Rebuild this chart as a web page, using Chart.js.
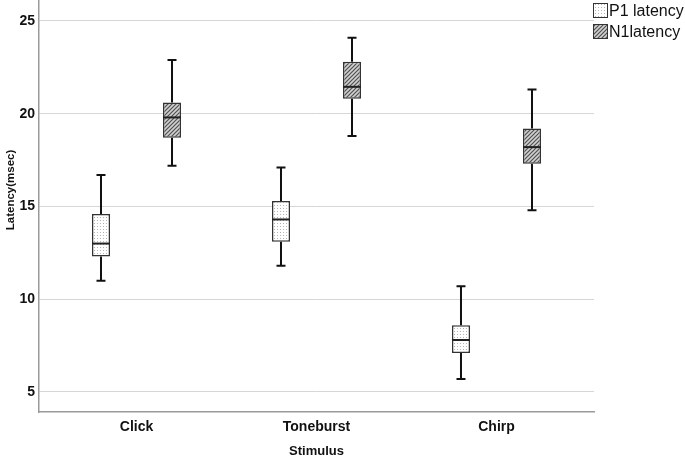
<!DOCTYPE html>
<html>
<head>
<meta charset="utf-8">
<script src="https://cdn.jsdelivr.net/npm/chart.js@4"></script>
<style>
  html, body { margin: 0; padding: 0; background: #fff; }
  #wrap { width: 685px; height: 459px; position: relative; }
</style>
</head>
<body>
<div id="wrap"><canvas id="boxChart"></canvas></div>
<script>
// stimulus categories
const stimuli = ['Click', 'Toneburst', 'Chirp'];
const seriesNames = ['P1 latency', 'N1latency'];

// box plot statistics (msec)
const p1Min    = [11.0, 11.8, 5.7];
const p1Q1     = [12.3, 13.1, 7.1];
const p1Median = [13.0, 14.3, 7.8];
const p1Q3     = [14.6, 15.3, 8.6];
const p1Max    = [16.7, 17.1, 10.7];

const n1Min    = [17.2, 18.8, 14.8];
const n1Q1     = [18.7, 20.8, 17.3];
const n1Median = [19.8, 21.45, 18.2];
const n1Q3     = [20.6, 22.8, 19.2];
const n1Max    = [22.9, 24.1, 21.3];

const yTicks = [5, 10, 15, 20, 25];
const yTitle = 'Latency(msec)';

function dotPattern() {
    const c = document.createElement('canvas');
    c.width = 3; c.height = 3;
    const g = c.getContext('2d');
    g.fillStyle = '#ffffff'; g.fillRect(0, 0, 3, 3);
    g.fillStyle = '#b4b4b4'; g.fillRect(1, 1, 1, 1);
    return g.createPattern(c, 'repeat');
}

function hatchPattern() {
    const c = document.createElement('canvas');
    c.width = 4; c.height = 4;
    const g = c.getContext('2d');
    g.fillStyle = '#d0d0d0'; g.fillRect(0, 0, 4, 4);
    g.strokeStyle = '#505050'; g.lineWidth = 1.2;
    g.beginPath();
    g.moveTo(0, 4); g.lineTo(4, 0);
    g.moveTo(-1, 1); g.lineTo(1, -1);
    g.moveTo(3, 5); g.lineTo(5, 3);
    g.stroke();
    return g.createPattern(c, 'repeat');
}

const boxStats = [
    { min: p1Min, med: p1Median, max: p1Max },
    { min: n1Min, med: n1Median, max: n1Max }
];

// whiskers, caps and median lines drawn from the scales
const whiskerPlugin = {
    id: 'whiskers',
    afterDatasetsDraw(chart) {
        const ctx = chart.ctx;
        const y = chart.scales.y;
        chart.data.datasets.forEach((ds, di) => {
            const meta = chart.getDatasetMeta(di);
            const st = boxStats[di];
            meta.data.forEach((bar, i) => {
                const x = bar.x, w = bar.width;
                const [lo, hi] = ds.data[i].y;
                ctx.save();
                ctx.strokeStyle = '#111';
                ctx.lineWidth = 2;
                ctx.beginPath();
                ctx.moveTo(x, y.getPixelForValue(hi)); ctx.lineTo(x, y.getPixelForValue(st.max[i]));
                ctx.moveTo(x, y.getPixelForValue(lo)); ctx.lineTo(x, y.getPixelForValue(st.min[i]));
                const cap = 4.5;
                ctx.moveTo(x - cap, y.getPixelForValue(st.max[i])); ctx.lineTo(x + cap, y.getPixelForValue(st.max[i]));
                ctx.moveTo(x - cap, y.getPixelForValue(st.min[i])); ctx.lineTo(x + cap, y.getPixelForValue(st.min[i]));
                ctx.stroke();
                ctx.strokeStyle = '#222';
                ctx.beginPath();
                ctx.moveTo(x - w / 2, y.getPixelForValue(st.med[i])); ctx.lineTo(x + w / 2, y.getPixelForValue(st.med[i]));
                ctx.stroke();
                ctx.restore();
            });
        });
    }
};

// legend in the top-right margin and the y title
const cornerLegend = {
    id: 'cornerLegend',
    afterDraw(chart) {
        const ctx = chart.ctx;
        ctx.save();
        chart.data.datasets.forEach((ds, di) => {
            const top = 3 + di * 21;
            ctx.fillStyle = ds.backgroundColor;
            ctx.fillRect(593, top, 15, 15);
            ctx.strokeStyle = '#333'; ctx.lineWidth = 1;
            ctx.strokeRect(593.5, top + 0.5, 14, 14);
            ctx.fillStyle = '#111';
            ctx.font = '16px "Liberation Sans", Arial, sans-serif';
            ctx.textBaseline = 'middle';
            ctx.fillText(ds.label, 609, top + 9);
        });
        ctx.translate(11, 190);
        ctx.rotate(-Math.PI / 2);
        ctx.font = 'bold 11.5px "Liberation Sans", Arial, sans-serif';
        ctx.textAlign = 'center';
        ctx.textBaseline = 'middle';
        ctx.fillStyle = '#111';
        ctx.fillText(yTitle, 0, 0);
        ctx.restore();
    }
};

new Chart(document.getElementById('boxChart'), {
    type: 'bar',
    data: {
        datasets: [
            {
                label: seriesNames[0],
                data: p1Q1.map((q, i) => ({ x: i, y: [q, p1Q3[i]] })),
                backgroundColor: dotPattern(),
                borderColor: '#333', borderWidth: 1.5, borderSkipped: false,
                categoryPercentage: 0.789, barPercentage: 0.2535
            },
            {
                label: seriesNames[1],
                data: n1Q1.map((q, i) => ({ x: i, y: [q, n1Q3[i]] })),
                backgroundColor: hatchPattern(),
                borderColor: '#333', borderWidth: 1.5, borderSkipped: false,
                categoryPercentage: 0.789, barPercentage: 0.2535
            }
        ]
    },
    options: {
        responsive: true, maintainAspectRatio: false, animation: false,
        layout: { padding: { top: 0, right: 91, bottom: 0, left: 0 } },
        plugins: { legend: { display: false }, tooltip: { enabled: false } },
        scales: {
            x: {
                type: 'linear', offset: false,
                min: -0.5417, max: 2.5417,
                afterBuildTicks: (s) => { s.ticks = stimuli.map((_, i) => ({ value: i })); },
                grid: { display: false, drawTicks: false },
                border: { color: '#9a9a9a', width: 1.5 },
                ticks: { color: '#111', padding: 7, autoSkip: false, maxRotation: 0,
                         callback: (v) => stimuli[v],
                         font: { family: '"Liberation Sans", Arial', size: 14, weight: 'bold' } },
                title: { display: true, text: 'Stimulus', color: '#111', padding: { top: 8, bottom: 0 }, font: { family: '"Liberation Sans", Arial', size: 13, weight: 'bold' } },
                afterFit: (s) => { s.height = 47; s.paddingLeft = 0; s.paddingRight = 0; }
            },
            y: {
                min: 3.92, max: 26.13,
                afterBuildTicks: (s) => { s.ticks = yTicks.map(v => ({ value: v })); },
                grid: { color: '#d6d6d6', lineWidth: 1, drawTicks: false },
                border: { color: '#9a9a9a', width: 1.5 },
                ticks: { color: '#111', padding: 4, font: { family: '"Liberation Sans", Arial', size: 14, weight: 'bold' } },
                afterFit: (s) => { s.width = 39; s.paddingTop = 0; s.paddingBottom = 0; }
            }
        }
    },
    plugins: [whiskerPlugin, cornerLegend]
});
</script>
</body>
</html>
